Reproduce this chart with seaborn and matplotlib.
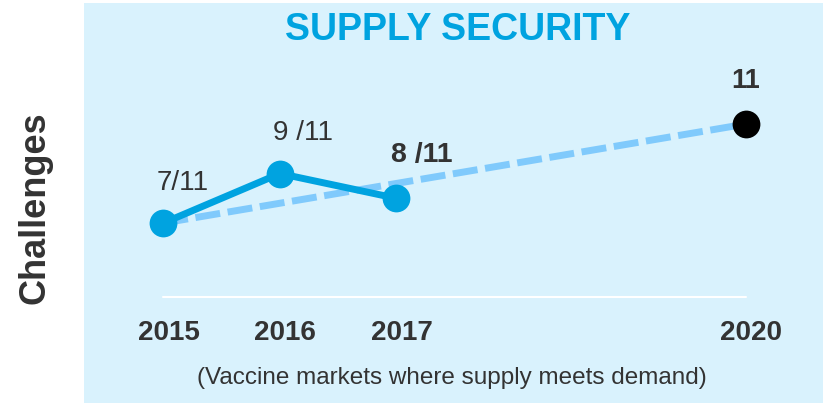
import matplotlib
matplotlib.use("Agg")
import matplotlib.pyplot as plt
import seaborn as sns
import pandas as pd

# data
years = [2015, 2016, 2017]
markets = [7, 9, 8]
target_years = [2015, 2020]
target_markets = [7, 11]
point_labels = ["7/11", "9 /11", "8 /11", "11"]
tick_years = [2015, 2016, 2017, 2020]

BLUE = "#00A3E0"
LIGHT = "#80CAFC"
PANEL = "#D9F2FD"
DARK = "#333333"

sns.set_theme(style="white")
plt.rcParams['font.family'] = ['Liberation Sans', 'DejaVu Sans']

fig = plt.figure(figsize=(8.23, 4.03), dpi=100)
fig.patch.set_facecolor("white")
ax = fig.add_axes([84 / 823, 0, 739 / 823, 400 / 403])
ax.set_facecolor(PANEL)

actual = pd.DataFrame({"year": years, "markets": markets})
target = pd.DataFrame({"year": target_years, "markets": target_markets})

# dashed trajectory to the 2020 goal
sns.lineplot(data=target, x="year", y="markets", ax=ax, color=LIGHT,
             linewidth=5, dashes=False, zorder=2)
ax.lines[-1].set_dashes([3.6, 1.1])

sns.lineplot(data=actual, x="year", y="markets", ax=ax, color=BLUE,
             linewidth=5, marker="o", markersize=20, markeredgewidth=0, zorder=3)
ax.plot([target_years[-1]], [target_markets[-1]], "o", color="black",
        markersize=20, markeredgewidth=0, zorder=4)

# baseline
ax.plot([tick_years[0], tick_years[-1]], [4, 4], color="white", lw=1.5, zorder=1)

ax.set_xlim(2014.32, 2020.66)
ax.set_ylim(-0.27, 15.89)
ax.set_xticks([])
ax.set_yticks([])
ax.set_xlabel("")
ax.set_ylabel("")
for s in ax.spines.values():
    s.set_visible(False)

# point labels
lab_x = [2015.17, 2016.2, 2017.22, 2020.0]
lab_y = [8.6, 10.64, 9.75, 12.74]
lab_bold = [False, False, True, True]
lab_size = [20, 20, 20.5, 19.5]
for t, x, y, b, fs in zip(point_labels, lab_x, lab_y, lab_bold, lab_size):
    ax.text(x, y, t, ha="center", va="center", fontsize=fs, color=DARK,
            fontweight="bold" if b else "normal")

for yr in tick_years:
    ax.text(yr + 0.045, 2.56, str(yr), ha="center", va="center", fontsize=20,
            fontweight="bold", color=DARK)

ax.text(2017.53, 14.8, "SUPPLY SECURITY", ha="center", va="center",
        fontsize=27, fontweight="bold", color=BLUE)
ax.text(2017.48, 0.74, "(Vaccine markets where supply meets demand)",
        ha="center", va="center", fontsize=17.5, color=DARK)

fig.text(35 / 823, 1 - 208 / 403, "Challenges", rotation=90, ha="center",
         va="center", fontsize=26, fontweight="bold", color=DARK)

fig.savefig("out.png", dpi=100)
